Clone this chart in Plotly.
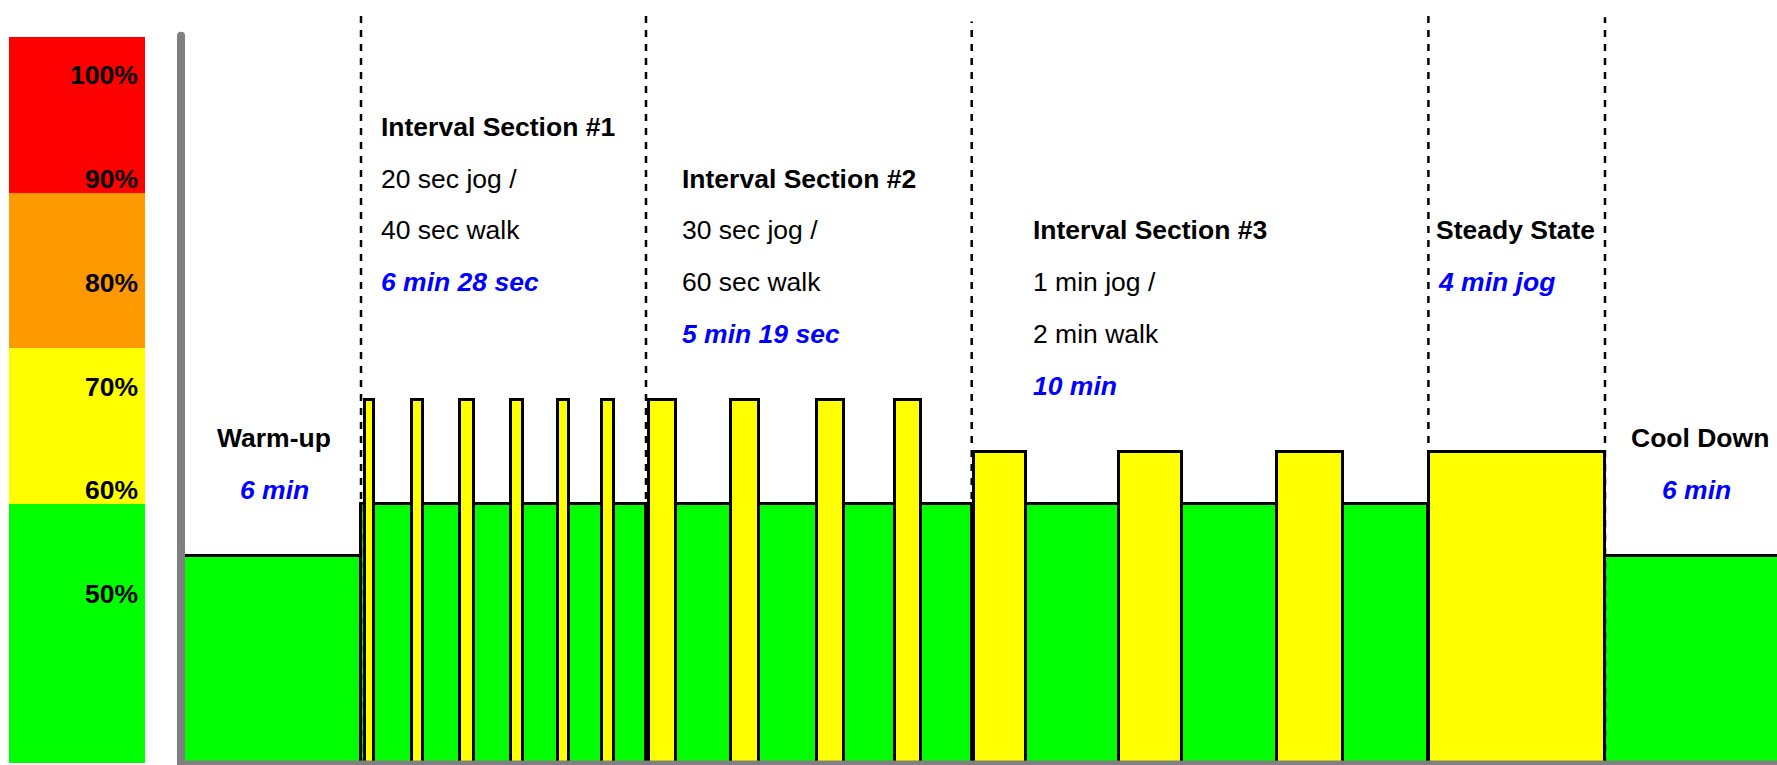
import plotly.graph_objects as go

# ---------------- data ----------------
# colour scale bands (% effort)
band_lower = [35, 60, 75, 90]
band_upper = [60, 75, 90, 105]
band_colors = ["#00FF00", "#FFFF00", "#FF9900", "#FF0000"]
scale_labels = ["100%", "90%", "80%", "70%", "60%", "50%"]
scale_label_y = [101.3, 91.3, 81.3, 71.3, 61.3, 51.3]

# workout sections on a schematic timeline (not drawn to time scale)
section_names = ["Warm-up", "Interval Section #1", "Interval Section #2",
                 "Interval Section #3", "Steady State", "Cool Down"]
section_start = [184.0, 361.0, 646.0, 971.7, 1428.4, 1605.0]
section_end = [361.0, 646.0, 971.7, 1428.4, 1605.0, 1790.0]
walk_level = [55, 60, 60, 60, None, 55]
divider_top = [107.3, 107.3, 106.5, 107.1, 106.9]

# jog bouts
jog_start = [365.1, 412.1, 460.0, 511.3, 558.3, 602.2,
             648.8, 730.5, 816.5, 894.5,
             974.2, 1118.5, 1276.5,
             1429.0]
jog_end = [373.5, 423.3, 473.8, 522.8, 568.7, 613.5,
           675.5, 759.2, 843.5, 921.2,
           1026.2, 1181.5, 1342.5,
           1605.0]
jog_level = [70, 70, 70, 70, 70, 70,
             70, 70, 70, 70,
             65, 65, 65,
             65]

# texts
section_desc = [
    [],
    ["20 sec jog /", "40 sec walk"],
    ["30 sec jog /", "60 sec walk"],
    ["1 min jog /", "2 min walk"],
    [],
    [],
]
section_time = ["6 min", "6 min 28 sec", "5 min 19 sec", "10 min", "4 min jog", "6 min"]
title_y = [66.35, 96.35, 91.35, 86.35, 86.35, 66.35]
text_x = [274, 379, 680, 1031, 1434, 1700]
time_x = [274, 379, 680, 1031, 1435.5, 1696]
text_anchor = ["center", "left", "left", "left", "left", "center"]

BASE = 35
ROW = 5
FONT = "Liberation Sans, Arial, sans-serif"
FS = 26.5

fig = go.Figure()

# colour scale bar
fig.add_trace(go.Bar(
    x=[77] * 4, width=[136] * 4,
    base=band_lower, y=[u - l for u, l in zip(band_upper, band_lower)],
    marker=dict(color=band_colors, line=dict(width=0)),
    hoverinfo="skip", showlegend=False))

# walking (green) segments
gx, gw, gy = [], [], []
for s, e, lv in zip(section_start, section_end, walk_level):
    if lv is None:
        continue
    gx.append((s + e) / 2)
    gw.append(e - s)
    gy.append(lv - BASE)
fig.add_trace(go.Bar(
    x=gx, width=gw, y=gy, base=BASE,
    marker=dict(color="#00FF00", line=dict(color="black", width=3)),
    hoverinfo="skip", showlegend=False))

# jogging (yellow) bouts
fig.add_trace(go.Bar(
    x=[(s + e) / 2 for s, e in zip(jog_start, jog_end)],
    width=[e - s for s, e in zip(jog_start, jog_end)],
    y=[lv - BASE for lv in jog_level], base=BASE,
    marker=dict(color="#FFFF00", line=dict(color="black", width=3)),
    hoverinfo="skip", showlegend=False))

# dashed section dividers
for xb, top in zip(section_start[1:], divider_top):
    fig.add_shape(type="line", x0=xb, x1=xb, y0=34.8, y1=top,
                  line=dict(color="black", width=2.5, dash="7px,7px"))

# axes lines (grey)
fig.add_shape(type="line", x0=181, x1=181, y0=30, y1=105.1,
              line=dict(color="#808080", width=8))
fig.add_shape(type="circle", x0=177.0, x1=185.0, y0=104.72, y1=105.5,
              fillcolor="#808080", line=dict(width=0))
fig.add_shape(type="line", x0=177.0, x1=1800, y0=34.8, y1=34.8,
              line=dict(color="#808080", width=9))

ann = []
for lab, yy in zip(scale_labels, scale_label_y):
    ann.append(dict(x=140, y=yy, text="<b>%s</b>" % lab, xanchor="right",
                    yanchor="middle", showarrow=False,
                    font=dict(family=FONT, size=FS, color="black")))

for i, name in enumerate(section_names):
    y = title_y[i]
    ann.append(dict(x=text_x[i], y=y, text="<b>%s</b>" % name,
                    xanchor=text_anchor[i], yanchor="middle", showarrow=False,
                    font=dict(family=FONT, size=FS, color="black")))
    for line in section_desc[i]:
        y -= ROW
        ann.append(dict(x=text_x[i], y=y, text=line,
                        xanchor=text_anchor[i], yanchor="middle", showarrow=False,
                        font=dict(family=FONT, size=FS, color="black")))
    y -= ROW
    ann.append(dict(x=time_x[i], y=y, text="<b><i>%s</i></b>" % section_time[i],
                    xanchor=text_anchor[i], yanchor="middle", showarrow=False,
                    font=dict(family=FONT, size=FS, color="#0000FF")))

fig.update_layout(
    width=1777, height=765,
    margin=dict(l=0, r=0, t=0, b=0),
    paper_bgcolor="white", plot_bgcolor="white",
    barmode="overlay", bargap=0,
    xaxis=dict(range=[0, 1777], visible=False, fixedrange=True),
    yaxis=dict(range=[34.81, 108.57], visible=False, fixedrange=True),
    annotations=ann,
    showlegend=False,
)

fig.write_html(
    "out.html",
    config={"displayModeBar": False},
    post_script="document.body.style.margin='0';document.body.style.overflow='hidden';",
)
